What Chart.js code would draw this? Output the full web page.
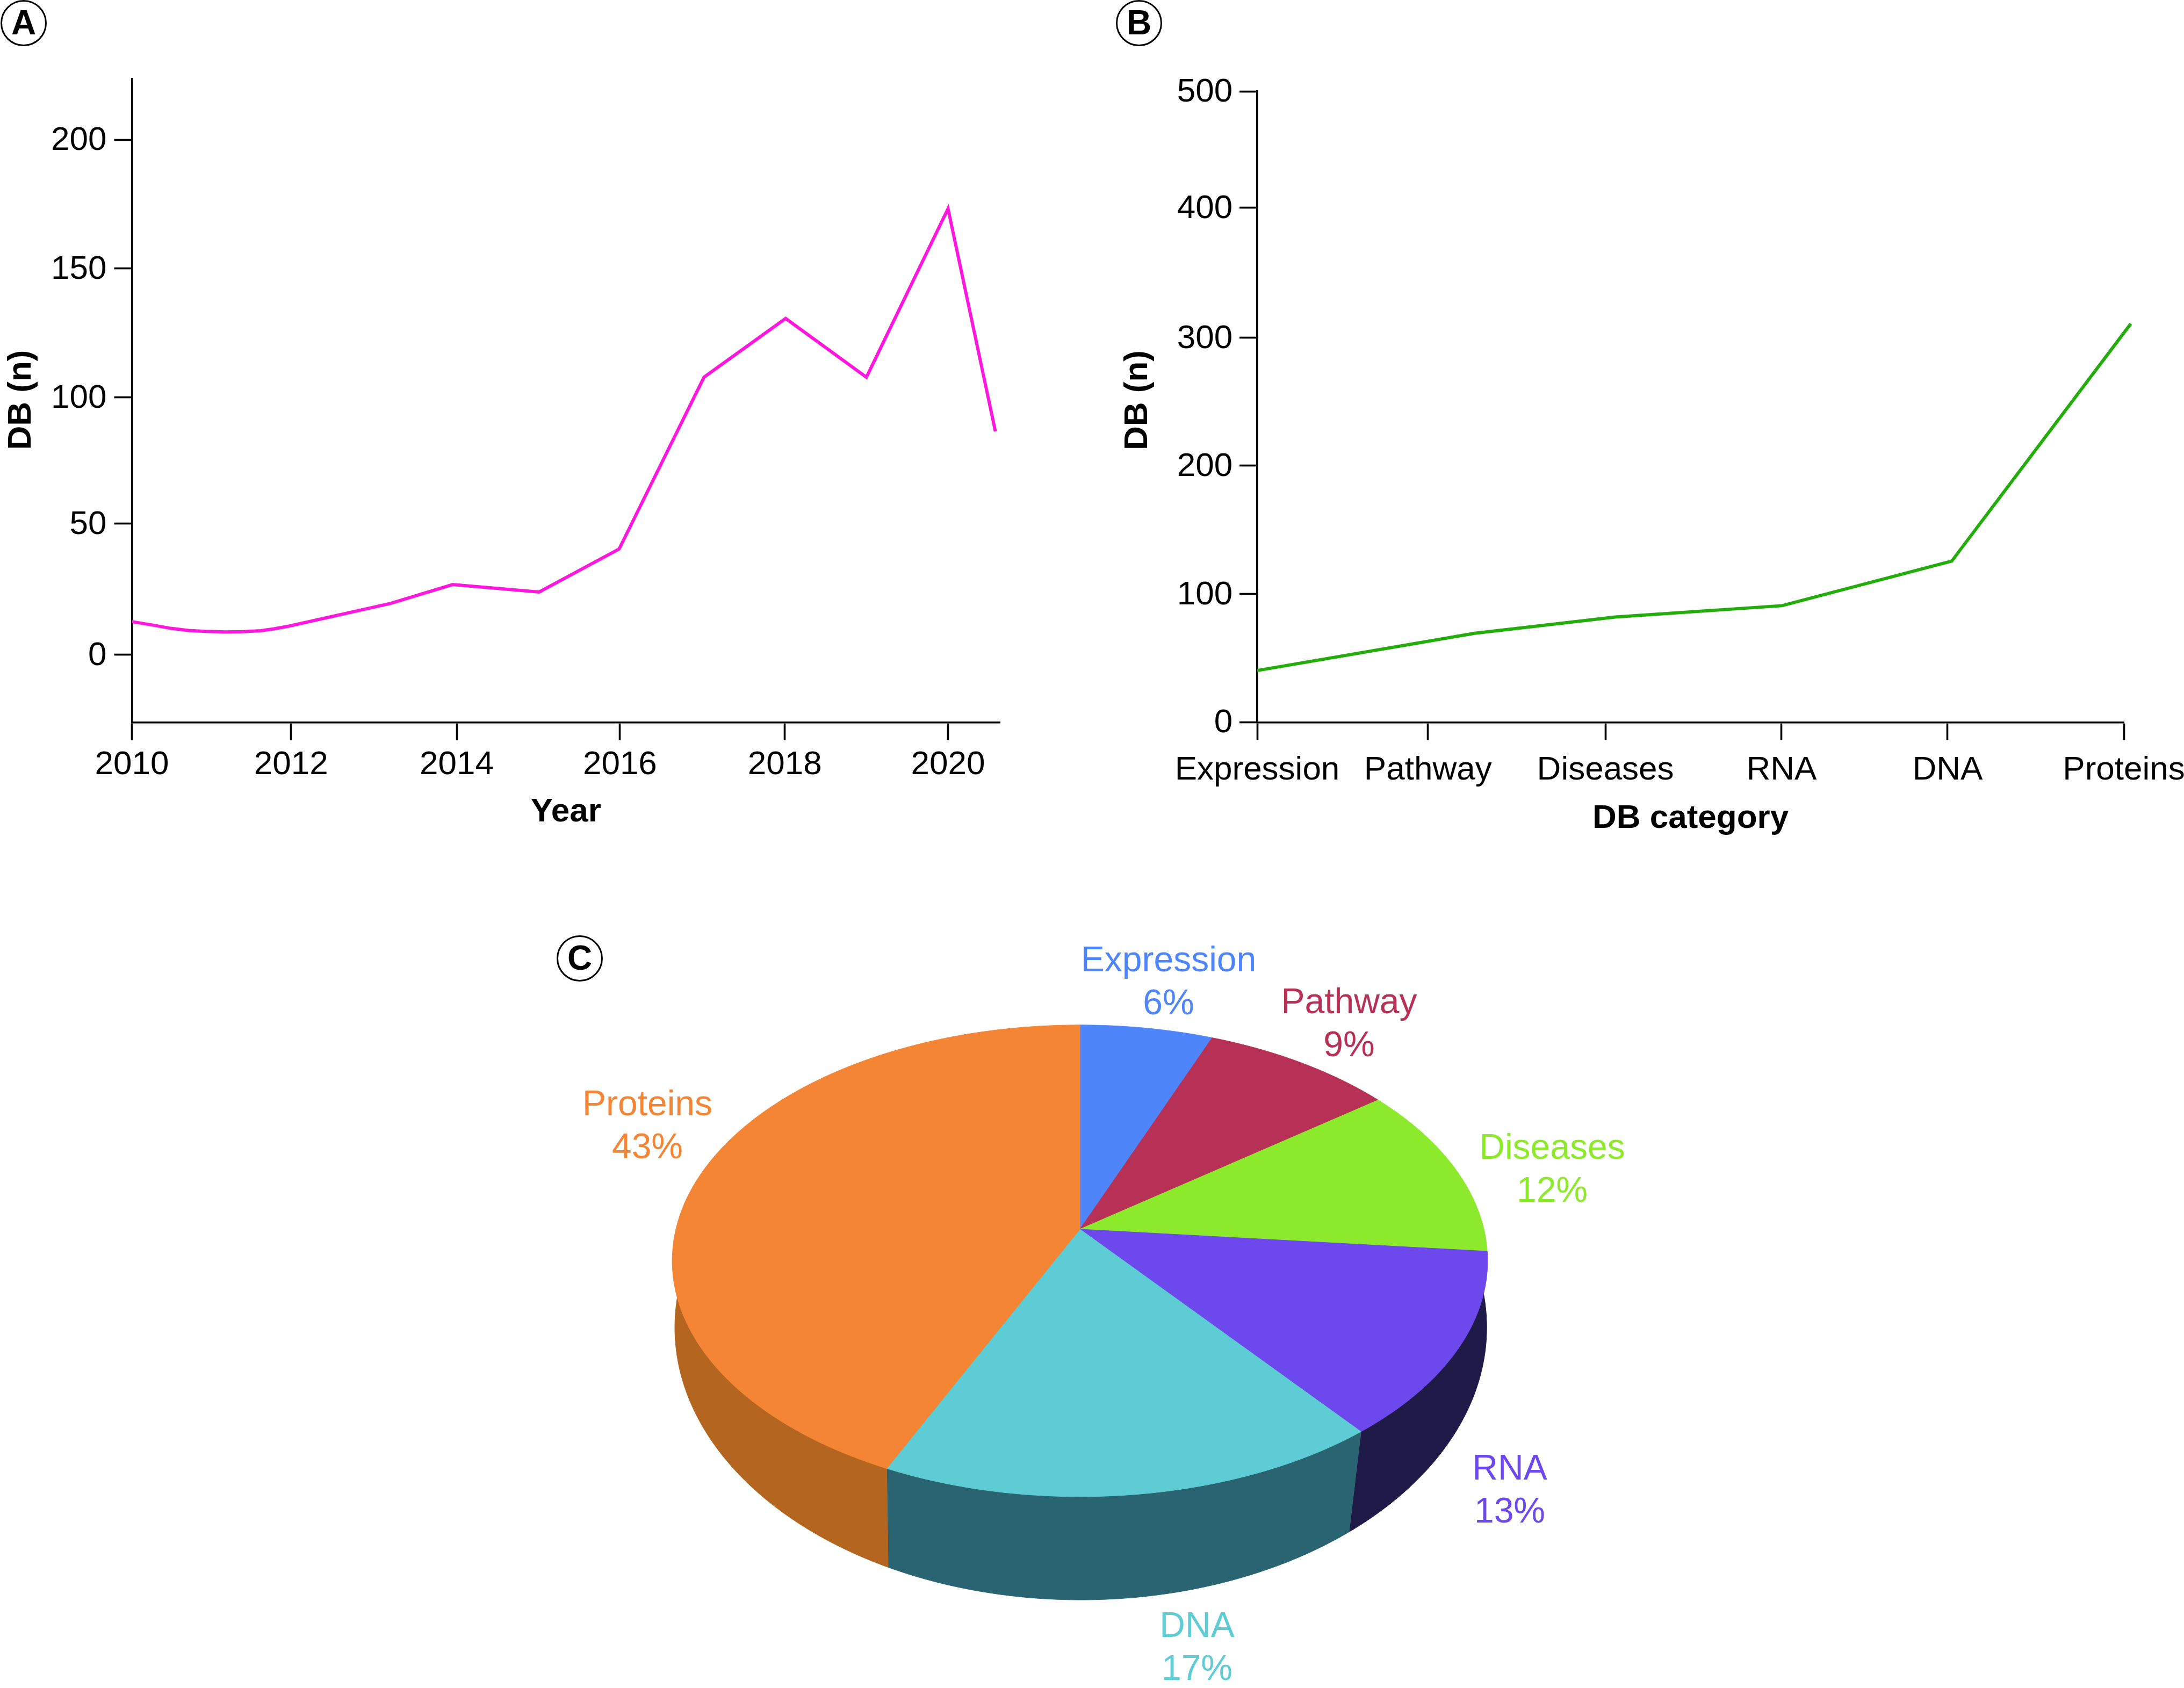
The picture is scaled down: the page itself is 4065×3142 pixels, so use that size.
<!DOCTYPE html>
<html>
<head>
<meta charset="utf-8">
<title>DB counts</title>
<script src="https://cdn.jsdelivr.net/npm/chart.js@4"></script>
<style>
  html, body { margin: 0; background: #fff; overflow: hidden; }
  #page { position: relative; width: 4065px; height: 3142px; overflow: hidden; }
  canvas { position: absolute; }
  .panel {
    position: absolute; box-sizing: border-box; width: 86px; height: 86px;
    border: 3.5px solid #000; border-radius: 50%; background: #fff;
    font: bold 64px "Liberation Sans", sans-serif; line-height: 79px; text-align: center;
  }
</style>
</head>
<body>
<div id="page">
  <canvas id="pie" width="4065" height="3142" style="left:0;top:0"></canvas>
  <canvas id="years" width="2000" height="1600" style="left:0;top:0"></canvas>
  <canvas id="categories" width="2300" height="1600" style="left:2000px;top:0"></canvas>
  <div class="panel" style="left:1px;top:0">A</div>
  <div class="panel" style="left:2077px;top:0">B</div>
  <div class="panel" style="left:1036px;top:1741px">C</div>
</div>
<script>
// Panel A
const years = [2010, 2010.27, 2010.48, 2010.69, 2010.9, 2011.15, 2011.37, 2011.58, 2011.74, 2011.93, 2013.17, 2013.93, 2014.99, 2015.97, 2017.01, 2018.01, 2019, 2020, 2020.58]
const dbPerYear = [12.9, 11.5, 10.3, 9.5, 9.1, 8.9, 9, 9.4, 10.1, 11.2, 20, 27.3, 24.4, 41.1, 107.8, 130.6, 107.8, 173.2, 86.8]
const yearTicks = [2010, 2011.95, 2013.98, 2015.98, 2018, 2020]
const yearTickLabels = ["2010", "2012", "2014", "2016", "2018", "2020"]
const yearCountTicks = [0, 51, 100, 150, 200]
const yearCountLabels = ["0", "50", "100", "150", "200"]

// Panel B
const categories = ["Expression", "Pathway", "Diseases", "RNA", "DNA", "Proteins"]
const categoryX = [0, 1.255, 2.066, 3.028, 4.007, 5.04]
const dbPerCategory = [40.3, 69.3, 82, 90.8, 125.5, 310.4]
const categoryTicks = [0, 0.985, 2.009, 3.025, 3.983, 5]
const categoryCountTicks = [0, 100, 200, 299.5, 400.7, 491.4]
const categoryCountLabels = ["0", "100", "200", "300", "400", "500"]

// Panel C
const pieSlices = [6, 8.7, 11.8, 12.8, 17.6, 43.1]
const pieLabels = ["6%", "9%", "12%", "13%", "17%", "43%"]
const faceColors = ["#4f85fb", "#b73056", "#8ce92b", "#6d48ec", "#5dccd4", "#f48535"]
const wallColors = ["#2f4f96", "#6d1c33", "#54891a", "#201a48", "#2a6472", "#b46620"]

// centre x, baseline of the first line
const pieTextSpots = [[2175, 1808], [2511, 1886], [2889, 2157], [2810, 2754], [2228, 3047], [1205, 2076]]

// perspective of the top face and the ellipse of the lower rim
const top3d = { x: 2010, y: 2288, rx: 752, ry: 431.1, tilt: -0.134 }
const rim3d = { x: 2011.6, y: 2471, rx: 755.6, ry: 507 }

const fontFamily = '"Liberation Sans", Arial, sans-serif'
Chart.defaults.font.family = fontFamily
Chart.defaults.color = "#000"
Chart.defaults.animation = false
Chart.defaults.devicePixelRatio = 1

const topPoint = (angle) => {
  const d = 1 + top3d.tilt * Math.sin(angle)
  return [top3d.x + (top3d.rx * Math.cos(angle)) / d, top3d.y + (top3d.ry * Math.sin(angle)) / d]
}

const rimPoint = (deg) => {
  const a = (deg * Math.PI) / 180
  return [rim3d.x + rim3d.rx * Math.cos(a), rim3d.y + rim3d.ry * Math.sin(a)]
}

// clockwise degrees from 12 o'clock -> angle on the rim ellipse
const rimAngle = (fromTop) => {
  if (fromTop <= 100) return -15
  if (fromTop >= 350) return 195
  return 91 + 1.1 * (fromTop - 180)
}

const pie3d = {
  id: "pie3d",
  beforeDatasetDraw(chart, args) {
    const ctx = chart.ctx
    const arcs = args.meta.data
    const fromTop = (angle) => ((angle + Math.PI / 2) * 180) / Math.PI

    // side walls first, the top face covers whatever overlaps
    arcs.forEach((arc, i) => {
      const b = fromTop(arc.endAngle)
      if (b <= 100) return
      const a0 = rimAngle(fromTop(arc.startAngle))
      const a1 = rimAngle(b)
      ctx.beginPath()
      ctx.moveTo(top3d.x, top3d.y)
      ctx.lineTo(...topPoint(arc.endAngle))
      for (let deg = a1; deg > a0; deg -= 1) ctx.lineTo(...rimPoint(deg))
      ctx.lineTo(...rimPoint(a0))
      if (a0 > -15) ctx.lineTo(...topPoint(arc.startAngle))
      ctx.closePath()
      ctx.fillStyle = wallColors[i]
      ctx.strokeStyle = wallColors[i]
      ctx.lineWidth = 1
      ctx.fill()
      ctx.stroke()
    })

    arcs.forEach((arc, i) => {
      ctx.beginPath()
      ctx.moveTo(top3d.x, top3d.y)
      const step = (arc.endAngle - arc.startAngle) / 120
      for (let k = 0; k <= 120; k++) ctx.lineTo(...topPoint(arc.startAngle + k * step))
      ctx.closePath()
      ctx.fillStyle = arc.options.backgroundColor
      ctx.strokeStyle = arc.options.backgroundColor
      ctx.lineWidth = 1
      ctx.fill()
      ctx.stroke()
    })
    return false
  },
  afterDatasetsDraw(chart) {
    const ctx = chart.ctx
    ctx.save()
    ctx.font = "66px " + fontFamily
    ctx.textAlign = "center"
    ctx.textBaseline = "alphabetic"
    categories.forEach((name, i) => {
      const [x, y] = pieTextSpots[i]
      ctx.fillStyle = faceColors[i]
      ctx.fillText(name, x, y)
      ctx.fillText(pieLabels[i], x, y + 80)
    })
    ctx.restore()
  },
}

const yTitle = {
  id: "yTitle",
  afterDraw(chart, args, opts) {
    const ctx = chart.ctx
    ctx.save()
    ctx.translate(opts.x, opts.y)
    ctx.rotate(-Math.PI / 2)
    ctx.font = "bold 62px " + fontFamily
    ctx.fillStyle = "#000"
    ctx.textAlign = "center"
    ctx.textBaseline = "alphabetic"
    ctx.fillText("DB (n)", 0, 0)
    ctx.restore()
  },
}

const axisLook = (ticks, labels, padding, labelOffset) => ({
  afterBuildTicks: (scale) => {
    scale.ticks = ticks.map((value) => ({ value }))
  },
  border: { display: true, color: "#000", width: 3.6 },
  grid: { display: true, drawOnChartArea: false, drawTicks: true, tickLength: 33, tickWidth: 3.6, tickColor: "#000" },
  ticks: {
    autoSkip: false,
    maxRotation: 0,
    padding,
    labelOffset,
    font: { size: 62 },
    callback: (value, i) => labels[i],
  },
})

new Chart(document.getElementById("years"), {
  type: "scatter",
  data: {
    datasets: [
      {
        data: years.map((x, i) => ({ x, y: dbPerYear[i] })),
        showLine: true,
        borderColor: "#ff17dd",
        borderWidth: 6,
        pointRadius: 0,
        tension: 0,
      },
    ],
  },
  options: {
    responsive: false,
    layout: { padding: { top: 146.4, right: 139, left: 0, bottom: 0 } },
    plugins: { legend: { display: false }, tooltip: { enabled: false }, yTitle: { x: 57.4, y: 744.5 } },
    scales: {
      x: {
        type: "linear",
        min: 2010,
        max: 2020.635,
        afterFit: (scale) => {
          scale.height = 255.4
        },
        title: { display: true, text: "Year", font: { size: 62, weight: "bold" }, padding: { top: 0, bottom: 51 } },
        ...axisLook(yearTicks, yearTickLabels, 9, 0),
      },
      y: {
        type: "linear",
        min: -26.2,
        max: 223.7,
        afterFit: (scale) => {
          scale.width = 245.5
        },
        ...axisLook(yearCountTicks, yearCountLabels, 14, 2),
      },
    },
  },
  plugins: [yTitle],
})

new Chart(document.getElementById("categories"), {
  type: "scatter",
  data: {
    datasets: [
      {
        data: categoryX.map((x, i) => ({ x, y: dbPerCategory[i] })),
        showLine: true,
        borderColor: "#23ad0b",
        borderWidth: 6,
        pointRadius: 0,
        tension: 0,
        clip: false,
      },
    ],
  },
  options: {
    responsive: false,
    layout: { padding: { top: 170, right: 347, left: 0, bottom: 0 } },
    plugins: { legend: { display: false }, tooltip: { enabled: false }, yTitle: { x: 135, y: 745 } },
    scales: {
      x: {
        type: "linear",
        min: 0,
        max: 5,
        afterFit: (scale) => {
          scale.height = 255.6
        },
        title: { display: true, text: "DB category", font: { size: 62, weight: "bold" }, padding: { top: 0, bottom: 39 } },
        ...axisLook(categoryTicks, categories, 19, 0),
      },
      y: {
        type: "linear",
        min: 0,
        max: 491.4,
        afterFit: (scale) => {
          scale.width = 340
        },
        ...axisLook(categoryCountTicks, categoryCountLabels, 12.7, 2),
      },
    },
  },
  plugins: [yTitle],
})

new Chart(document.getElementById("pie"), {
  type: "pie",
  data: {
    labels: categories,
    datasets: [{ data: pieSlices, backgroundColor: faceColors, borderWidth: 0 }],
  },
  options: {
    responsive: false,
    plugins: { legend: { display: false }, tooltip: { enabled: false } },
  },
  plugins: [pie3d],
})
</script>
</body>
</html>
